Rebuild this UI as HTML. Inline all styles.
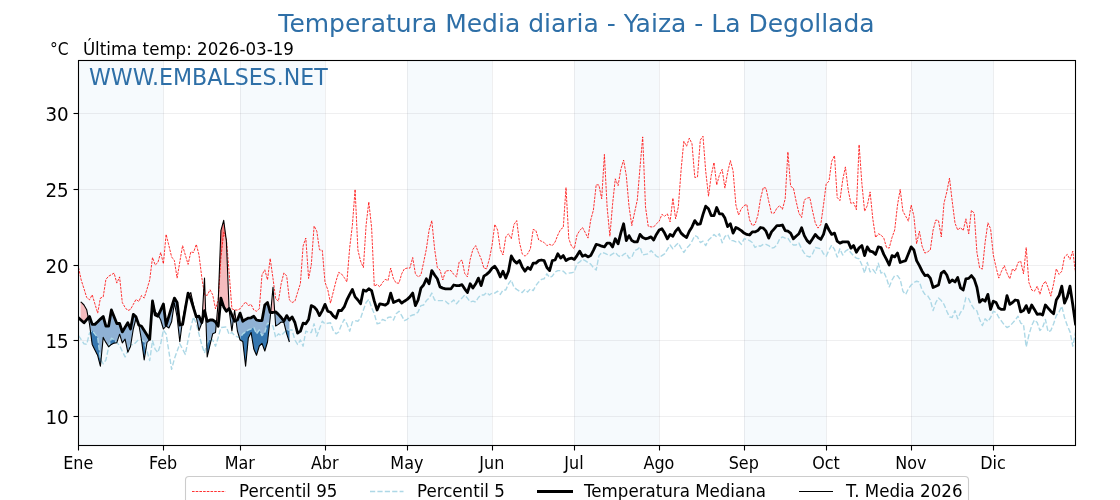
<!DOCTYPE html>
<html lang="es"><head><meta charset="utf-8"><title>Temperatura Media diaria - Yaiza - La Degollada</title>
<style>
html,body{margin:0;padding:0;background:#fff;}
body{width:1120px;height:500px;overflow:hidden;}
svg{display:block;font-family:"DejaVu Sans","Liberation Sans",sans-serif;}
</style></head><body>
<svg width="1120" height="500" viewBox="0 0 1120 500">
<rect width="1120" height="500" fill="#ffffff"/>
<defs><clipPath id="ax"><rect x="78.5" y="60.5" width="997.0" height="385.0"/></clipPath></defs>

<g fill="#f6fafd">
<rect x="78.50" y="60.5" width="84.91" height="385.0"/>
<rect x="240.10" y="60.5" width="84.91" height="385.0"/>
<rect x="407.18" y="60.5" width="84.91" height="385.0"/>
<rect x="574.26" y="60.5" width="84.91" height="385.0"/>
<rect x="744.08" y="60.5" width="82.17" height="385.0"/>
<rect x="911.16" y="60.5" width="82.17" height="385.0"/>
</g>
<g stroke="#808488" stroke-opacity="0.13" stroke-width="1" fill="none">
<line x1="78.5" y1="60.5" x2="78.5" y2="445.5"/>
<line x1="163.5" y1="60.5" x2="163.5" y2="445.5"/>
<line x1="240.5" y1="60.5" x2="240.5" y2="445.5"/>
<line x1="325.5" y1="60.5" x2="325.5" y2="445.5"/>
<line x1="407.5" y1="60.5" x2="407.5" y2="445.5"/>
<line x1="492.5" y1="60.5" x2="492.5" y2="445.5"/>
<line x1="574.5" y1="60.5" x2="574.5" y2="445.5"/>
<line x1="659.5" y1="60.5" x2="659.5" y2="445.5"/>
<line x1="744.5" y1="60.5" x2="744.5" y2="445.5"/>
<line x1="826.5" y1="60.5" x2="826.5" y2="445.5"/>
<line x1="911.5" y1="60.5" x2="911.5" y2="445.5"/>
<line x1="993.5" y1="60.5" x2="993.5" y2="445.5"/>
<line x1="78.5" y1="416.5" x2="1075.5" y2="416.5"/>
<line x1="78.5" y1="340.5" x2="1075.5" y2="340.5"/>
<line x1="78.5" y1="265.5" x2="1075.5" y2="265.5"/>
<line x1="78.5" y1="189.5" x2="1075.5" y2="189.5"/>
<line x1="78.5" y1="113.5" x2="1075.5" y2="113.5"/>
</g>
<g clip-path="url(#ax)" fill="none" stroke-linejoin="round">
<path d="M88.3 317.8 L89.5 324.0 L92.2 344.4 L94.9 350.0 L97.7 355.6 L100.4 366.2 L103.2 337.4 L105.9 342.4 L108.6 346.7 L111.4 344.4 L114.1 343.1 L116.8 342.7 L119.6 334.2 L122.3 342.9 L125.1 339.2 L127.8 352.2 L130.5 346.5 L133.3 329.0 L136.0 318.5 L138.1 323.1 L138.1 323.1 L136.0 316.9 L133.3 314.4 L130.5 329.0 L127.8 322.8 L125.1 327.3 L122.3 331.9 L119.6 323.5 L116.8 323.5 L114.1 316.8 L111.4 310.0 L108.6 326.2 L105.9 326.2 L103.2 316.5 L100.4 319.1 L97.7 321.8 L94.9 324.4 L92.2 324.4 L89.5 316.5 L88.3 317.8Z" fill="#8fb1d4" stroke="none"/>
<path d="M138.9 325.0 L141.5 340.0 L144.2 360.0 L147.0 342.5 L149.7 339.5 L152.5 301.0 L152.5 301.0 L149.7 339.4 L147.0 335.0 L144.2 330.6 L141.5 326.2 L138.9 325.0Z" fill="#8fb1d4" stroke="none"/>
<path d="M158.3 315.3 L160.7 320.0 L163.4 329.0 L166.1 326.0 L168.9 328.0 L171.6 321.8 L174.4 303.0 L177.1 317.0 L179.8 341.8 L182.0 324.5 L182.0 324.5 L179.8 325.0 L177.1 302.5 L174.4 298.1 L171.6 307.2 L168.9 316.2 L166.1 325.2 L163.4 304.0 L160.7 310.1 L158.3 315.3Z" fill="#8fb1d4" stroke="none"/>
<path d="M186.5 302.3 L188.1 297.0 L189.1 295.3 L189.1 295.3 L188.1 293.1 L186.5 302.3Z" fill="#8fb1d4" stroke="none"/>
<path d="M196.2 316.5 L196.3 317.0 L199.0 330.6 L201.8 323.0 L201.8 322.7 L201.8 322.7 L201.8 322.8 L199.0 316.2 L196.3 316.9 L196.2 316.5Z" fill="#8fb1d4" stroke="none"/>
<path d="M205.8 315.8 L207.2 357.0 L210.0 345.0 L212.7 333.8 L215.5 332.5 L216.3 323.2 L216.3 323.2 L215.5 321.9 L212.7 320.0 L210.0 320.0 L207.2 321.4 L205.8 315.8Z" fill="#8fb1d4" stroke="none"/>
<path d="M229.1 308.6 L229.1 310.0 L231.9 331.0 L233.5 318.7 L233.5 318.7 L231.9 315.0 L229.1 308.5 L229.1 308.6Z" fill="#8fb1d4" stroke="none"/>
<path d="M236.0 320.6 L237.4 331.0 L240.1 340.0 L242.8 341.5 L245.6 366.2 L248.3 338.0 L251.1 332.5 L253.8 349.0 L256.5 355.3 L259.3 346.0 L262.0 343.4 L264.8 351.0 L267.5 342.0 L270.2 318.0 L270.7 312.5 L270.7 312.5 L270.2 312.5 L267.5 302.5 L264.8 305.0 L262.0 320.6 L259.3 320.6 L256.5 320.0 L253.8 316.2 L251.1 317.8 L248.3 318.1 L245.6 319.4 L242.8 321.2 L240.1 313.1 L237.4 320.0 L236.0 320.6Z" fill="#8fb1d4" stroke="none"/>
<path d="M274.7 312.1 L275.7 326.0 L278.4 324.4 L281.2 322.0 L283.9 322.5 L286.7 333.8 L289.4 342.0 L289.4 320.0 L286.7 315.6 L283.9 321.2 L281.2 317.5 L278.4 314.4 L275.7 311.9 L274.7 312.1Z" fill="#8fb1d4" stroke="none"/>
<path d="M80.6 301.9 L81.2 302.2 L84.0 305.0 L86.7 309.7 L88.3 317.8 L88.3 317.8 L86.7 319.6 L84.0 322.8 L81.2 320.2 L80.6 319.7Z" fill="#f6bcbe" stroke="none"/>
<path d="M138.1 323.1 L138.8 324.5 L138.9 325.0 L138.9 325.0 L138.8 325.0 L138.1 323.1Z" fill="#f6bcbe" stroke="none"/>
<path d="M152.5 301.0 L155.2 312.0 L157.9 314.5 L158.3 315.3 L158.3 315.3 L157.9 316.2 L155.2 315.0 L152.5 301.0Z" fill="#f6bcbe" stroke="none"/>
<path d="M182.0 324.5 L182.6 320.0 L185.3 306.0 L186.5 302.3 L186.5 302.3 L185.3 308.8 L182.6 324.4 L182.0 324.5Z" fill="#f6bcbe" stroke="none"/>
<path d="M189.1 295.3 L190.8 292.5 L193.5 305.0 L196.2 316.5 L196.2 316.5 L193.5 307.9 L190.8 299.0 L189.1 295.3Z" fill="#f6bcbe" stroke="none"/>
<path d="M201.8 322.7 L204.5 278.0 L205.8 315.8 L205.8 315.8 L204.5 310.6 L201.8 322.7Z" fill="#f6bcbe" stroke="none"/>
<path d="M216.3 323.2 L218.2 302.0 L220.9 230.6 L223.7 220.3 L226.4 241.0 L229.1 308.6 L229.1 308.6 L226.4 311.2 L223.7 306.9 L220.9 298.1 L218.2 326.2 L216.3 323.2Z" fill="#f6bcbe" stroke="none"/>
<path d="M233.5 318.7 L234.6 310.3 L236.0 320.6 L236.0 320.6 L234.6 321.2 L233.5 318.7Z" fill="#f6bcbe" stroke="none"/>
<path d="M270.7 312.5 L273.0 287.2 L274.7 312.1 L274.7 312.1 L273.0 312.5 L270.7 312.5Z" fill="#f6bcbe" stroke="none"/>
<path d="M90.5 332.1 L92.2 344.4 L94.9 350.0 L97.7 355.6 L100.4 366.2 L101.0 359.9 L101.0 359.9 L100.4 358.8 L97.7 337.5 L94.9 334.1 L92.2 330.6 L90.5 332.1Z" fill="#3577b0" stroke="none"/>
<path d="M108.9 346.4 L111.4 344.4 L114.1 343.1 L116.8 342.7 L116.9 342.6 L116.9 342.6 L116.8 342.5 L114.1 340.0 L111.4 338.1 L108.9 346.4Z" fill="#3577b0" stroke="none"/>
<path d="M127.6 351.1 L127.8 352.2 L130.5 346.5 L130.9 344.4 L130.9 344.4 L130.5 344.4 L127.8 350.6 L127.6 351.1Z" fill="#3577b0" stroke="none"/>
<path d="M141.5 340.0 L144.2 360.0 L146.1 348.2 L146.1 348.2 L144.2 341.9 L141.5 340.0Z" fill="#3577b0" stroke="none"/>
<path d="M206.8 344.2 L207.2 357.0 L210.0 345.0 L211.3 339.7 L211.3 339.7 L210.0 339.4 L207.2 342.5 L206.8 344.2Z" fill="#3577b0" stroke="none"/>
<path d="M239.4 337.8 L240.1 340.0 L242.8 341.5 L245.6 366.2 L248.3 338.0 L251.1 332.5 L253.8 349.0 L256.5 355.3 L259.3 346.0 L262.0 343.4 L264.8 351.0 L267.5 342.0 L269.5 324.1 L269.5 324.1 L267.5 323.1 L264.8 332.5 L262.0 335.6 L259.3 330.0 L256.5 333.8 L253.8 327.5 L251.1 328.8 L248.3 330.0 L245.6 331.9 L242.8 333.8 L240.1 338.1 L239.4 337.8Z" fill="#3577b0" stroke="none"/>
<path d="M285.9 330.8 L286.7 333.8 L289.4 342.0 L289.4 330.0 L286.7 330.0 L285.9 330.8Z" fill="#3577b0" stroke="none"/>
<path d="M203.8 290.1 L204.5 278.0 L205.1 294.9 L205.1 294.9 L204.5 294.8 L203.8 290.1Z" fill="#f47c7c" stroke="none"/>
<path d="M218.4 297.1 L220.9 230.6 L223.7 220.3 L226.0 237.8 L226.0 237.8 L223.7 232.5 L220.9 258.0 L218.4 297.1Z" fill="#f47c7c" stroke="none"/>
<path d="M78.5 267.5 L81.2 280.0 L84.0 288.8 L86.7 297.5 L89.5 299.8 L92.2 294.8 L94.9 303.9 L97.7 313.1 L100.4 298.1 L103.2 296.9 L105.9 279.4 L108.6 276.2 L111.4 274.7 L114.1 273.1 L116.8 283.1 L119.6 276.9 L122.3 302.5 L125.1 307.5 L127.8 310.6 L130.5 309.4 L133.3 304.4 L136.0 299.4 L138.8 301.5 L141.5 295.6 L144.2 298.1 L147.0 289.1 L149.7 280.0 L152.5 257.5 L155.2 265.0 L157.9 262.5 L160.7 252.5 L163.4 263.8 L166.1 234.4 L168.9 245.6 L171.6 256.9 L174.4 260.6 L177.1 278.1 L179.8 261.9 L182.6 245.6 L185.3 255.0 L188.1 264.4 L190.8 251.9 L193.5 252.5 L196.3 244.4 L199.0 254.9 L201.8 277.4 L204.5 294.8 L207.2 295.4 L210.0 289.8 L212.7 294.8 L215.5 308.8 L218.2 300.0 L220.9 258.0 L223.7 232.5 L226.4 238.8 L229.1 272.0 L231.9 308.8 L234.6 310.0 L237.4 310.0 L240.1 308.8 L242.8 305.3 L245.6 301.9 L248.3 305.6 L251.1 304.4 L253.8 310.0 L256.5 311.2 L259.3 308.8 L262.0 274.8 L264.8 269.8 L267.5 279.8 L270.2 258.5 L273.0 278.5 L275.7 298.8 L278.4 301.2 L281.2 283.5 L283.9 272.9 L286.7 276.0 L289.4 300.0 L292.1 302.5 L294.9 301.2 L297.6 292.4 L300.4 283.5 L303.1 246.0 L305.8 238.0 L308.6 278.5 L311.3 264.8 L314.1 226.0 L316.8 231.2 L319.5 249.8 L322.3 250.4 L325.0 282.2 L327.8 289.8 L330.5 303.1 L333.2 292.2 L336.0 281.1 L338.7 272.4 L341.4 273.8 L344.2 277.5 L346.9 281.9 L349.7 247.5 L352.4 225.0 L355.1 189.4 L357.9 250.0 L360.6 261.2 L363.4 267.5 L366.1 225.0 L368.8 201.9 L371.6 227.5 L374.3 286.2 L377.1 284.4 L379.8 286.9 L382.5 282.5 L385.3 279.4 L388.0 280.6 L390.7 268.1 L393.5 278.8 L396.2 283.1 L399.0 283.1 L401.7 273.8 L404.4 268.8 L407.2 268.1 L409.9 268.1 L412.7 257.5 L415.4 273.8 L418.1 276.9 L420.9 275.0 L423.6 262.5 L426.4 248.8 L429.1 230.0 L431.8 220.6 L434.6 248.8 L437.3 267.5 L440.0 270.0 L442.8 280.0 L445.5 271.2 L448.3 270.6 L451.0 270.6 L453.7 274.4 L456.5 276.9 L459.2 261.9 L462.0 260.0 L464.7 273.4 L467.4 276.9 L470.2 259.4 L472.9 249.4 L475.7 245.6 L478.4 252.5 L481.1 258.8 L483.9 268.1 L486.6 268.8 L489.4 258.8 L492.1 245.0 L494.8 224.4 L497.6 230.0 L500.3 249.4 L503.0 255.0 L505.8 236.9 L508.5 233.8 L511.3 238.8 L514.0 224.4 L516.7 220.6 L519.5 242.5 L522.2 253.8 L525.0 256.2 L527.7 253.8 L530.4 248.8 L533.2 229.4 L535.9 230.6 L538.7 240.0 L541.4 241.2 L544.1 242.5 L546.9 245.6 L549.6 244.4 L552.3 245.6 L555.1 242.0 L557.8 235.0 L560.6 229.4 L563.3 227.5 L566.0 187.5 L568.8 238.8 L571.5 246.2 L574.3 248.8 L577.0 235.0 L579.7 230.6 L582.5 227.5 L585.2 232.5 L588.0 238.1 L590.7 220.0 L593.4 210.1 L596.2 184.7 L598.9 185.0 L601.7 198.8 L604.4 154.4 L607.1 207.0 L609.9 236.2 L612.6 203.8 L615.3 178.8 L618.1 185.6 L620.8 169.4 L623.6 160.0 L626.3 175.6 L629.0 206.2 L631.8 225.6 L634.5 212.8 L637.3 200.0 L640.0 167.5 L642.7 136.9 L645.5 207.0 L648.2 226.2 L651.0 226.9 L653.7 226.9 L656.4 223.8 L659.2 221.2 L661.9 214.4 L664.6 216.2 L667.4 213.8 L670.1 221.9 L672.9 198.1 L675.6 218.8 L678.3 207.0 L681.1 170.0 L683.8 141.2 L686.6 146.2 L689.3 138.1 L692.0 143.8 L694.8 177.5 L697.5 176.9 L700.3 140.0 L703.0 136.2 L705.7 171.2 L708.5 196.2 L711.2 175.6 L714.0 162.5 L716.7 185.0 L719.4 175.0 L722.2 169.4 L724.9 188.1 L727.6 172.5 L730.4 160.6 L733.1 171.2 L735.9 205.0 L738.6 215.0 L741.3 208.8 L744.1 205.6 L746.8 204.4 L749.6 220.0 L752.3 225.6 L755.0 224.4 L757.8 215.6 L760.5 198.8 L763.3 187.5 L766.0 188.1 L768.7 201.2 L771.5 213.1 L774.2 213.1 L776.9 208.1 L779.7 205.6 L782.4 209.4 L785.2 198.8 L787.9 151.9 L790.6 186.2 L793.4 188.1 L796.1 201.2 L798.9 213.1 L801.6 217.5 L804.3 200.0 L807.1 198.1 L809.8 197.5 L812.6 211.2 L815.3 223.1 L818.0 228.1 L820.8 224.4 L823.5 205.0 L826.2 183.8 L829.0 181.2 L831.7 161.2 L834.5 155.6 L837.2 197.5 L839.9 200.6 L842.7 180.0 L845.4 166.9 L848.2 190.0 L850.9 203.4 L853.6 202.5 L856.4 209.7 L859.1 144.7 L861.9 183.8 L864.6 211.2 L867.3 205.6 L870.1 191.9 L872.8 218.8 L875.6 237.5 L878.3 233.8 L881.0 235.0 L883.8 238.1 L886.5 247.5 L889.2 248.1 L892.0 237.5 L894.7 230.0 L897.5 205.0 L900.2 189.4 L902.9 211.2 L905.7 216.2 L908.4 221.2 L911.2 205.0 L913.9 216.2 L916.6 243.8 L919.4 231.2 L922.1 246.2 L924.9 253.1 L927.6 251.9 L930.3 250.0 L933.1 230.0 L935.8 220.0 L938.5 220.6 L941.3 236.9 L944.0 203.1 L946.8 191.9 L949.5 178.1 L952.2 201.2 L955.0 223.1 L957.7 230.0 L960.5 227.5 L963.2 230.6 L965.9 218.8 L968.7 233.8 L971.4 210.3 L974.2 213.1 L976.9 252.2 L979.6 267.8 L982.4 269.1 L985.1 242.5 L987.9 222.8 L990.6 228.8 L993.3 255.0 L996.1 267.5 L998.8 278.1 L1001.5 271.2 L1004.3 265.6 L1007.0 273.1 L1009.8 278.8 L1012.5 268.8 L1015.2 271.2 L1018.0 262.5 L1020.7 261.2 L1023.5 273.8 L1026.2 247.5 L1028.9 282.5 L1031.7 290.0 L1034.4 291.2 L1037.2 286.2 L1039.9 294.4 L1042.6 285.0 L1045.4 281.2 L1048.1 287.5 L1050.8 296.2 L1053.6 283.8 L1056.3 268.8 L1059.1 274.4 L1061.8 271.2 L1064.5 256.9 L1067.3 254.4 L1070.0 259.4 L1072.8 251.2 L1075.5 272.5" stroke="#ff0000" stroke-width="0.8" stroke-dasharray="2.6 1.1"/>
<path d="M78.5 335.6 L81.2 339.7 L84.0 343.8 L86.7 344.4 L89.5 333.1 L92.2 330.6 L94.9 334.1 L97.7 337.5 L100.4 358.8 L103.2 363.8 L105.9 360.0 L108.6 347.5 L111.4 338.1 L114.1 340.0 L116.8 342.5 L119.6 345.6 L122.3 351.2 L125.1 356.9 L127.8 350.6 L130.5 344.4 L133.3 345.0 L136.0 342.2 L138.8 339.4 L141.5 340.0 L144.2 341.9 L147.0 351.2 L149.7 360.6 L152.5 340.6 L155.2 349.4 L157.9 352.5 L160.7 343.8 L163.4 330.0 L166.1 333.8 L168.9 351.6 L171.6 369.4 L174.4 358.8 L177.1 351.2 L179.8 343.8 L182.6 349.1 L185.3 354.4 L188.1 340.0 L190.8 327.5 L193.5 316.9 L196.3 323.8 L199.0 334.1 L201.8 345.0 L204.5 353.1 L207.2 342.5 L210.0 339.4 L212.7 340.0 L215.5 346.2 L218.2 337.5 L220.9 327.5 L223.7 327.2 L226.4 326.9 L229.1 334.4 L231.9 332.5 L234.6 335.6 L237.4 336.9 L240.1 338.1 L242.8 333.8 L245.6 331.9 L248.3 330.0 L251.1 328.8 L253.8 327.5 L256.5 333.8 L259.3 330.0 L262.0 335.6 L264.8 332.5 L267.5 323.1 L270.2 324.4 L273.0 326.2 L275.7 337.5 L278.4 333.8 L281.2 335.6 L283.9 332.8 L286.7 330.0 L289.4 330.0 L292.1 330.0 L294.9 340.0 L297.6 344.4 L300.4 340.0 L303.1 346.2 L305.8 331.2 L308.6 332.5 L311.3 332.5 L314.1 323.8 L316.8 336.2 L319.5 328.8 L322.3 321.2 L325.0 323.8 L327.8 323.3 L330.5 322.8 L333.2 330.4 L336.0 333.8 L338.7 332.0 L341.4 325.0 L344.2 319.4 L346.9 323.8 L349.7 331.2 L352.4 321.9 L355.1 320.6 L357.9 321.2 L360.6 318.1 L363.4 310.0 L366.1 302.5 L368.8 299.4 L371.6 307.5 L374.3 313.8 L377.1 323.8 L379.8 323.1 L382.5 319.4 L385.3 320.6 L388.0 317.5 L390.7 316.9 L393.5 320.0 L396.2 313.8 L399.0 311.2 L401.7 315.6 L404.4 320.6 L407.2 319.4 L409.9 316.2 L412.7 315.0 L415.4 314.4 L418.1 311.9 L420.9 305.6 L423.6 305.0 L426.4 300.6 L429.1 298.1 L431.8 293.1 L434.6 300.0 L437.3 300.6 L440.0 300.6 L442.8 300.6 L445.5 301.2 L448.3 303.8 L451.0 302.5 L453.7 300.0 L456.5 303.8 L459.2 300.6 L462.0 298.1 L464.7 295.0 L467.4 298.1 L470.2 302.0 L472.9 301.2 L475.7 302.0 L478.4 297.5 L481.1 295.0 L483.9 295.0 L486.6 292.5 L489.4 295.0 L492.1 293.1 L494.8 293.1 L497.6 291.2 L500.3 294.4 L503.0 290.0 L505.8 290.0 L508.5 283.8 L511.3 280.0 L514.0 287.5 L516.7 289.4 L519.5 291.2 L522.2 292.5 L525.0 289.4 L527.7 291.9 L530.4 288.8 L533.2 290.6 L535.9 285.6 L538.7 281.9 L541.4 279.4 L544.1 278.8 L546.9 273.8 L549.6 277.5 L552.3 276.2 L555.1 271.9 L557.8 270.6 L560.6 270.6 L563.3 271.2 L566.0 273.8 L568.8 273.1 L571.5 272.8 L574.3 271.9 L577.0 263.8 L579.7 261.9 L582.5 259.4 L585.2 260.6 L588.0 262.5 L590.7 264.1 L593.4 267.6 L596.2 270.1 L598.9 255.9 L601.7 252.5 L604.4 253.1 L607.1 254.4 L609.9 255.6 L612.6 253.8 L615.3 252.5 L618.1 255.6 L620.8 256.9 L623.6 254.4 L626.3 253.1 L629.0 258.1 L631.8 257.5 L634.5 250.6 L637.3 249.4 L640.0 246.9 L642.7 255.0 L645.5 254.4 L648.2 253.8 L651.0 250.6 L653.7 253.1 L656.4 256.2 L659.2 257.5 L661.9 255.6 L664.6 253.8 L667.4 249.4 L670.1 245.0 L672.9 248.8 L675.6 245.6 L678.3 243.1 L681.1 248.1 L683.8 252.5 L686.6 248.1 L689.3 245.6 L692.0 241.2 L694.8 235.6 L697.5 236.9 L700.3 242.5 L703.0 241.2 L705.7 245.6 L708.5 240.0 L711.2 237.5 L714.0 234.4 L716.7 236.9 L719.4 233.8 L722.2 242.8 L724.9 236.6 L727.6 234.4 L730.4 240.6 L733.1 240.6 L735.9 241.9 L738.6 241.2 L741.3 244.4 L744.1 238.8 L746.8 239.4 L749.6 240.6 L752.3 242.5 L755.0 247.5 L757.8 245.6 L760.5 246.2 L763.3 244.4 L766.0 244.4 L768.7 245.6 L771.5 248.1 L774.2 247.5 L776.9 245.0 L779.7 238.8 L782.4 236.9 L785.2 238.1 L787.9 238.1 L790.6 242.5 L793.4 245.0 L796.1 245.0 L798.9 243.1 L801.6 248.8 L804.3 253.1 L807.1 256.2 L809.8 257.0 L812.6 253.8 L815.3 247.5 L818.0 248.1 L820.8 248.8 L823.5 253.8 L826.2 256.2 L829.0 250.0 L831.7 245.0 L834.5 249.4 L837.2 257.0 L839.9 248.8 L842.7 255.0 L845.4 251.2 L848.2 249.4 L850.9 252.8 L853.6 255.9 L856.4 258.1 L859.1 258.8 L861.9 265.0 L864.6 273.1 L867.3 262.5 L870.1 271.9 L872.8 269.4 L875.6 273.1 L878.3 263.1 L881.0 273.1 L883.8 271.9 L886.5 278.1 L889.2 286.9 L892.0 280.0 L894.7 275.6 L897.5 275.6 L900.2 279.4 L902.9 291.2 L905.7 294.4 L908.4 288.8 L911.2 285.0 L913.9 282.5 L916.6 281.2 L919.4 281.9 L922.1 290.0 L924.9 294.4 L927.6 295.6 L930.3 300.0 L933.1 310.6 L935.8 302.5 L938.5 298.1 L941.3 300.6 L944.0 304.4 L946.8 311.2 L949.5 316.9 L952.2 317.5 L955.0 310.6 L957.7 318.8 L960.5 312.5 L963.2 309.1 L965.9 297.5 L968.7 298.8 L971.4 304.7 L974.2 309.1 L976.9 310.9 L979.6 319.4 L982.4 325.6 L985.1 318.8 L987.9 321.6 L990.6 317.5 L993.3 311.2 L996.1 312.5 L998.8 317.5 L1001.5 321.2 L1004.3 325.0 L1007.0 327.5 L1009.8 326.2 L1012.5 323.1 L1015.2 320.0 L1018.0 316.2 L1020.7 323.1 L1023.5 324.4 L1026.2 346.9 L1028.9 335.0 L1031.7 325.6 L1034.4 320.0 L1037.2 322.5 L1039.9 330.6 L1042.6 327.5 L1045.4 319.4 L1048.1 331.9 L1050.8 330.6 L1053.6 323.8 L1056.3 315.6 L1059.1 311.9 L1061.8 306.2 L1064.5 317.5 L1067.3 325.6 L1070.0 331.9 L1072.8 346.2 L1075.5 332.5" stroke="#add8e6" stroke-width="1.4" stroke-dasharray="5.2 2.2"/>
<path d="M80.7 301.9 L81.2 302.2 L84.0 305.0 L86.7 309.7 L89.5 324.0 L92.2 344.4 L94.9 350.0 L97.7 355.6 L100.4 366.2 L103.2 337.4 L105.9 342.4 L108.6 346.7 L111.4 344.4 L114.1 343.1 L116.8 342.7 L119.6 334.2 L122.3 342.9 L125.1 339.2 L127.8 352.2 L130.5 346.5 L133.3 329.0 L136.0 318.5 L138.8 324.5 L141.5 340.0 L144.2 360.0 L147.0 342.5 L149.7 339.5 L152.5 301.0 L155.2 312.0 L157.9 314.5 L160.7 320.0 L163.4 329.0 L166.1 326.0 L168.9 328.0 L171.6 321.8 L174.4 303.0 L177.1 317.0 L179.8 341.8 L182.6 320.0 L185.3 306.0 L188.1 297.0 L190.8 292.5 L193.5 305.0 L196.3 317.0 L199.0 330.6 L201.8 323.0 L204.5 278.0 L207.2 357.0 L210.0 345.0 L212.7 333.8 L215.5 332.5 L218.2 302.0 L220.9 230.6 L223.7 220.3 L226.4 241.0 L229.1 310.0 L231.9 331.0 L234.6 310.3 L237.4 331.0 L240.1 340.0 L242.8 341.5 L245.6 366.2 L248.3 338.0 L251.1 332.5 L253.8 349.0 L256.5 355.3 L259.3 346.0 L262.0 343.4 L264.8 351.0 L267.5 342.0 L270.2 318.0 L273.0 287.2 L275.7 326.0 L278.4 324.4 L281.2 322.0 L283.9 322.5 L286.7 333.8 L289.4 342.0" stroke="#000" stroke-width="1.1"/>
<path d="M78.5 317.8 L81.2 320.2 L84.0 322.8 L86.7 319.6 L89.5 316.5 L92.2 324.4 L94.9 324.4 L97.7 321.8 L100.4 319.1 L103.2 316.5 L105.9 326.2 L108.6 326.2 L111.4 310.0 L114.1 316.8 L116.8 323.5 L119.6 323.5 L122.3 331.9 L125.1 327.3 L127.8 322.8 L130.5 329.0 L133.3 314.4 L136.0 316.9 L138.8 325.0 L141.5 326.2 L144.2 330.6 L147.0 335.0 L149.7 339.4 L152.5 301.0 L155.2 315.0 L157.9 316.2 L160.7 310.1 L163.4 304.0 L166.1 325.2 L168.9 316.2 L171.6 307.2 L174.4 298.1 L177.1 302.5 L179.8 325.0 L182.6 324.4 L185.3 308.8 L188.1 293.1 L190.8 299.0 L193.5 307.9 L196.3 316.9 L199.0 316.2 L201.8 322.8 L204.5 310.6 L207.2 321.4 L210.0 320.0 L212.7 320.0 L215.5 321.9 L218.2 326.2 L220.9 298.1 L223.7 306.9 L226.4 311.2 L229.1 308.5 L231.9 315.0 L234.6 321.2 L237.4 320.0 L240.1 313.1 L242.8 321.2 L245.6 319.4 L248.3 318.1 L251.1 317.8 L253.8 316.2 L256.5 320.0 L259.3 320.6 L262.0 320.6 L264.8 305.0 L267.5 302.5 L270.2 312.5 L273.0 312.5 L275.7 311.9 L278.4 314.4 L281.2 317.5 L283.9 321.2 L286.7 315.6 L289.4 320.0 L292.1 316.9 L294.9 322.5 L297.6 333.1 L300.4 331.2 L303.1 323.1 L305.8 323.8 L308.6 319.4 L311.3 305.6 L314.1 306.9 L316.8 310.0 L319.5 315.6 L322.3 310.6 L325.0 304.4 L327.8 311.2 L330.5 312.2 L333.2 315.9 L336.0 318.1 L338.7 310.3 L341.4 310.6 L344.2 306.9 L346.9 300.0 L349.7 294.4 L352.4 289.4 L355.1 296.9 L357.9 300.0 L360.6 303.8 L363.4 290.0 L366.1 291.2 L368.8 288.8 L371.6 290.6 L374.3 301.2 L377.1 310.0 L379.8 303.8 L382.5 304.4 L385.3 305.2 L388.0 303.1 L390.7 293.1 L393.5 302.5 L396.2 301.2 L399.0 300.0 L401.7 303.1 L404.4 301.2 L407.2 299.4 L409.9 296.9 L412.7 293.1 L415.4 305.6 L418.1 300.0 L420.9 288.1 L423.6 285.0 L426.4 278.8 L429.1 283.8 L431.8 270.6 L434.6 275.0 L437.3 278.8 L440.0 286.9 L442.8 288.1 L445.5 288.8 L448.3 288.8 L451.0 288.8 L453.7 285.0 L456.5 285.6 L459.2 285.6 L462.0 284.7 L464.7 288.8 L467.4 292.5 L470.2 283.8 L472.9 288.1 L475.7 283.8 L478.4 278.1 L481.1 285.6 L483.9 276.2 L486.6 274.4 L489.4 271.9 L492.1 268.1 L494.8 266.2 L497.6 270.6 L500.3 276.9 L503.0 271.2 L505.8 278.1 L508.5 271.2 L511.3 256.0 L514.0 260.6 L516.7 263.1 L519.5 260.6 L522.2 266.9 L525.0 271.2 L527.7 267.5 L530.4 269.4 L533.2 263.1 L535.9 263.1 L538.7 260.6 L541.4 260.0 L544.1 260.6 L546.9 267.5 L549.6 270.6 L552.3 260.6 L555.1 260.0 L557.8 253.8 L560.6 258.1 L563.3 255.6 L566.0 260.6 L568.8 258.8 L571.5 258.1 L574.3 259.4 L577.0 255.6 L579.7 251.2 L582.5 256.2 L585.2 255.0 L588.0 256.9 L590.7 255.6 L593.4 250.3 L596.2 244.4 L598.9 245.0 L601.7 246.2 L604.4 246.9 L607.1 243.1 L609.9 243.1 L612.6 246.9 L615.3 238.8 L618.1 243.8 L620.8 233.1 L623.6 223.8 L626.3 240.6 L629.0 235.6 L631.8 240.6 L634.5 241.9 L637.3 241.9 L640.0 234.4 L642.7 237.5 L645.5 238.8 L648.2 238.1 L651.0 236.9 L653.7 240.0 L656.4 234.4 L659.2 230.0 L661.9 228.8 L664.6 233.1 L667.4 238.8 L670.1 234.4 L672.9 236.2 L675.6 231.2 L678.3 228.1 L681.1 233.1 L683.8 235.6 L686.6 237.5 L689.3 231.2 L692.0 226.9 L694.8 220.6 L697.5 224.4 L700.3 223.8 L703.0 214.4 L705.7 206.2 L708.5 208.8 L711.2 215.6 L714.0 215.6 L716.7 207.5 L719.4 213.8 L722.2 213.8 L724.9 218.1 L727.6 226.6 L730.4 223.8 L733.1 233.1 L735.9 227.5 L738.6 228.8 L741.3 230.6 L744.1 233.1 L746.8 234.4 L749.6 235.0 L752.3 231.9 L755.0 231.9 L757.8 230.6 L760.5 227.5 L763.3 228.1 L766.0 231.2 L768.7 238.1 L771.5 231.9 L774.2 228.8 L776.9 225.6 L779.7 225.6 L782.4 225.0 L785.2 230.6 L787.9 231.2 L790.6 233.1 L793.4 238.8 L796.1 236.2 L798.9 233.8 L801.6 227.8 L804.3 235.6 L807.1 240.6 L809.8 243.1 L812.6 238.8 L815.3 234.4 L818.0 237.5 L820.8 239.4 L823.5 234.4 L826.2 224.4 L829.0 230.0 L831.7 234.4 L834.5 233.1 L837.2 241.2 L839.9 243.1 L842.7 241.9 L845.4 241.9 L848.2 241.9 L850.9 248.1 L853.6 245.6 L856.4 252.2 L859.1 247.8 L861.9 245.6 L864.6 255.6 L867.3 246.9 L870.1 251.2 L872.8 251.9 L875.6 254.4 L878.3 246.9 L881.0 247.5 L883.8 254.4 L886.5 259.4 L889.2 265.0 L892.0 255.6 L894.7 256.9 L897.5 253.1 L900.2 262.5 L902.9 261.5 L905.7 260.6 L908.4 253.8 L911.2 246.9 L913.9 250.0 L916.6 260.6 L919.4 265.6 L922.1 271.2 L924.9 275.6 L927.6 275.0 L930.3 278.1 L933.1 287.5 L935.8 286.2 L938.5 285.0 L941.3 273.1 L944.0 271.2 L946.8 275.0 L949.5 282.5 L952.2 280.0 L955.0 281.9 L957.7 277.5 L960.5 287.8 L963.2 290.0 L965.9 278.8 L968.7 278.4 L971.4 275.6 L974.2 279.1 L976.9 287.2 L979.6 302.2 L982.4 299.4 L985.1 301.2 L987.9 294.4 L990.6 309.4 L993.3 301.2 L996.1 302.5 L998.8 308.1 L1001.5 309.4 L1004.3 309.4 L1007.0 295.6 L1009.8 304.4 L1012.5 302.5 L1015.2 300.0 L1018.0 300.6 L1020.7 311.9 L1023.5 310.6 L1026.2 305.6 L1028.9 312.5 L1031.7 305.0 L1034.4 309.4 L1037.2 314.4 L1039.9 313.8 L1042.6 315.0 L1045.4 305.0 L1048.1 308.1 L1050.8 311.2 L1053.6 313.8 L1056.3 300.0 L1059.1 295.6 L1061.8 286.2 L1064.5 303.1 L1067.3 296.9 L1070.0 286.2 L1072.8 305.0 L1075.5 323.8" stroke="#000" stroke-width="2.8" stroke-linecap="square"/>
</g>
<rect x="78.5" y="60.5" width="997.0" height="385.0" fill="none" stroke="#000" stroke-width="1.1"/>
<g stroke="#000" stroke-width="1.1">
<line x1="78.5" y1="445.5" x2="78.5" y2="450.5"/>
<line x1="163.5" y1="445.5" x2="163.5" y2="450.5"/>
<line x1="240.5" y1="445.5" x2="240.5" y2="450.5"/>
<line x1="325.5" y1="445.5" x2="325.5" y2="450.5"/>
<line x1="407.5" y1="445.5" x2="407.5" y2="450.5"/>
<line x1="492.5" y1="445.5" x2="492.5" y2="450.5"/>
<line x1="574.5" y1="445.5" x2="574.5" y2="450.5"/>
<line x1="659.5" y1="445.5" x2="659.5" y2="450.5"/>
<line x1="744.5" y1="445.5" x2="744.5" y2="450.5"/>
<line x1="826.5" y1="445.5" x2="826.5" y2="450.5"/>
<line x1="911.5" y1="445.5" x2="911.5" y2="450.5"/>
<line x1="993.5" y1="445.5" x2="993.5" y2="450.5"/>
<line x1="73.5" y1="416.5" x2="78.5" y2="416.5"/>
<line x1="73.5" y1="340.5" x2="78.5" y2="340.5"/>
<line x1="73.5" y1="265.5" x2="78.5" y2="265.5"/>
<line x1="73.5" y1="189.5" x2="78.5" y2="189.5"/>
<line x1="73.5" y1="113.5" x2="78.5" y2="113.5"/>
</g>
<text transform="translate(78.20 469.40) scale(1.000 1.070)" font-size="16" fill="#000" text-anchor="middle">Ene</text>
<text transform="translate(163.11 469.40) scale(1.000 1.070)" font-size="16" fill="#000" text-anchor="middle">Feb</text>
<text transform="translate(239.80 469.40) scale(1.000 1.070)" font-size="16" fill="#000" text-anchor="middle">Mar</text>
<text transform="translate(324.71 469.40) scale(1.000 1.070)" font-size="16" fill="#000" text-anchor="middle">Abr</text>
<text transform="translate(406.88 469.40) scale(1.000 1.070)" font-size="16" fill="#000" text-anchor="middle">May</text>
<text transform="translate(491.79 469.40) scale(1.000 1.070)" font-size="16" fill="#000" text-anchor="middle">Jun</text>
<text transform="translate(573.96 469.40) scale(1.000 1.070)" font-size="16" fill="#000" text-anchor="middle">Jul</text>
<text transform="translate(658.87 469.40) scale(1.000 1.070)" font-size="16" fill="#000" text-anchor="middle">Ago</text>
<text transform="translate(743.78 469.40) scale(1.000 1.070)" font-size="16" fill="#000" text-anchor="middle">Sep</text>
<text transform="translate(825.95 469.40) scale(1.000 1.070)" font-size="16" fill="#000" text-anchor="middle">Oct</text>
<text transform="translate(910.86 469.40) scale(1.000 1.070)" font-size="16" fill="#000" text-anchor="middle">Nov</text>
<text transform="translate(993.03 469.40) scale(1.000 1.070)" font-size="16" fill="#000" text-anchor="middle">Dic</text>
<text transform="translate(68.70 424.30) scale(1.000 1.075)" font-size="18.3" fill="#000" text-anchor="end">10</text>
<text transform="translate(68.70 348.30) scale(1.000 1.075)" font-size="18.3" fill="#000" text-anchor="end">15</text>
<text transform="translate(68.70 273.30) scale(1.000 1.075)" font-size="18.3" fill="#000" text-anchor="end">20</text>
<text transform="translate(68.70 197.30) scale(1.000 1.075)" font-size="18.3" fill="#000" text-anchor="end">25</text>
<text transform="translate(68.70 121.30) scale(1.000 1.075)" font-size="18.3" fill="#000" text-anchor="end">30</text>
<text x="576.50" y="31.50" font-size="25" fill="#2e6fa7" text-anchor="middle">Temperatura Media diaria - Yaiza - La Degollada</text>
<text transform="translate(50.00 54.50) scale(0.930 1.070)" font-size="16.67" fill="#000">°C</text>
<text transform="translate(82.90 54.50) scale(1.000 1.070)" font-size="16.67" fill="#000">Última temp: 2026-03-19</text>
<text x="89.00" y="84.50" font-size="22.1" fill="#2e6fa7">WWW.EMBALSES.NET</text>
<rect x="185.5" y="476.5" width="783" height="40" rx="3.5" fill="#fff" fill-opacity="0.8" stroke="#cccccc" stroke-width="1.1"/>
<line x1="192" y1="491.5" x2="225.5" y2="491.5" stroke="#ff0000" stroke-width="0.8" stroke-dasharray="2.6 1.1"/>
<line x1="370" y1="491.5" x2="403.5" y2="491.5" stroke="#add8e6" stroke-width="1.4" stroke-dasharray="5.2 2.2"/>
<line x1="537" y1="491.5" x2="573" y2="491.5" stroke="#000" stroke-width="2.8"/>
<line x1="799" y1="491.5" x2="833" y2="491.5" stroke="#000" stroke-width="1.1"/>
<text transform="translate(239.00 497.00) scale(1.000 1.070)" font-size="16.67" fill="#000">Percentil 95</text>
<text transform="translate(417.00 497.00) scale(1.000 1.070)" font-size="16.67" fill="#000">Percentil 5</text>
<text transform="translate(584.00 497.00) scale(1.000 1.070)" font-size="16.67" fill="#000">Temperatura Mediana</text>
<text transform="translate(846.00 497.00) scale(1.000 1.070)" font-size="16.67" fill="#000">T. Media 2026</text>
</svg></body></html>
